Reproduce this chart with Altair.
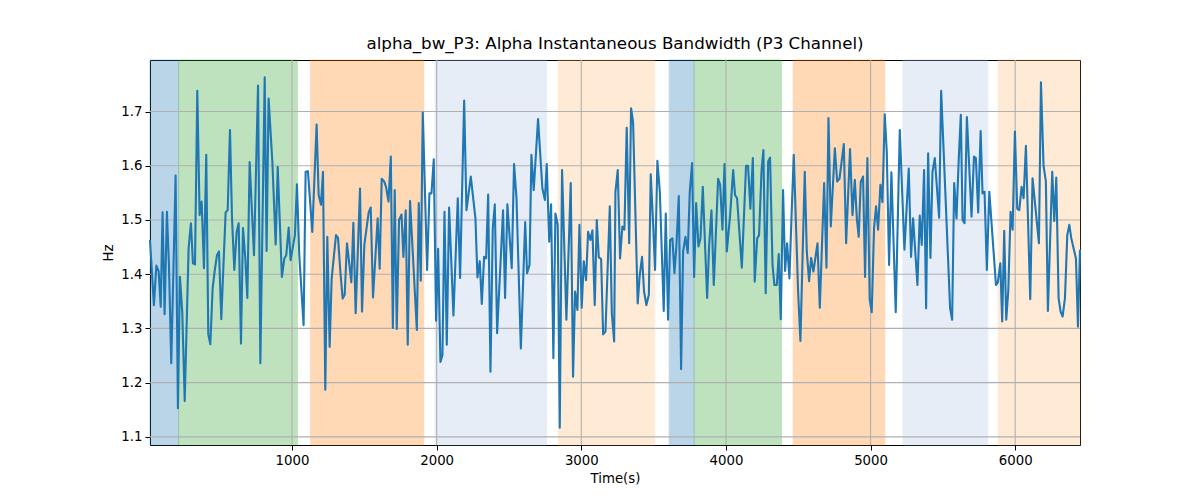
import altair as alt
import pandas as pd

# ---- series (time in s, bandwidth in Hz) ----
times = [
    18, 45, 62, 78, 92, 105, 119, 135, 149, 165, 195, 211, 225, 241, 258, 285, 301, 315, 329, 345,
    361, 375, 391, 407, 421, 435, 451, 465, 481, 495, 511, 525, 541, 555, 571, 585, 601, 617, 631, 647,
    661, 677, 691, 707, 737, 765, 781, 811,
    824, 838, 864, 887, 901, 930, 947, 960, 977, 990, 1020, 1034, 1050, 1080, 1094, 1110, 1140, 1170, 1184, 1200,
    1214, 1230, 1244, 1260, 1274, 1304, 1318, 1334, 1350, 1364, 1380, 1410, 1424, 1440, 1470, 1484, 1500, 1530, 1544, 1560,
    1592, 1606, 1620,
    1637, 1650, 1667, 1683, 1697, 1710, 1724, 1740, 1757, 1770, 1786, 1800, 1816, 1863, 1876, 1890, 1904, 1934, 1950, 1964,
    1980, 1996, 2010, 2026, 2040, 2054, 2070, 2086, 2116, 2146, 2162, 2190, 2206, 2236, 2268, 2282, 2298, 2312, 2328, 2342,
    2356, 2372, 2388, 2402, 2418,
    2427, 2443, 2459, 2473, 2489, 2519, 2535, 2552, 2582, 2612, 2625, 2642, 2655, 2671, 2701, 2731, 2748, 2761, 2778, 2791,
    2807, 2821, 2837, 2851, 2867, 2897, 2927, 2943, 2957, 2973, 2987, 3003, 3017, 3033, 3047, 3063, 3077, 3093, 3107, 3121,
    3137, 3151, 3167, 3197, 3211, 3227,
    3236, 3252, 3268, 3284, 3298, 3314, 3331, 3344, 3358, 3390, 3404, 3420, 3434, 3450, 3467, 3480, 3497, 3510, 3526, 3543,
    3570, 3584, 3600, 3614, 3630, 3644, 3658, 3674, 3690, 3704, 3720, 3736, 3750, 3766, 3780, 3794, 3810, 3824, 3840, 3870,
    3884, 3900, 3916, 3946, 3960, 3976, 3990, 4006, 4029,
    4050, 4063, 4077, 4110, 4139, 4153, 4169, 4186, 4199, 4216, 4229, 4246, 4259, 4275, 4292, 4305, 4322, 4335, 4352, 4365,
    4379, 4395, 4409, 4423, 4439, 4453, 4469, 4499, 4515, 4545, 4559, 4575, 4589, 4605, 4633, 4649, 4679, 4695, 4709, 4725,
    4753, 4769, 4785, 4815, 4831,
    4858, 4875, 4891, 4905, 4918, 4932, 4948, 4962, 4978, 4994, 5008, 5024, 5038, 5052, 5068, 5082, 5098, 5112, 5128, 5144,
    5174, 5202, 5234, 5264, 5280, 5294, 5324, 5340, 5354, 5370, 5384, 5398, 5414, 5428, 5444, 5474, 5488, 5550, 5564, 5578,
    5594, 5610, 5624,
    5636, 5650, 5666, 5698, 5715, 5728, 5744, 5761, 5774, 5788, 5804, 5821, 5867, 5880, 5897, 5910, 5924, 5938, 5952, 5968,
    5982, 5998, 6014, 6028, 6044, 6058, 6074, 6104, 6120, 6164, 6178, 6196, 6212, 6226, 6256, 6270, 6284, 6300, 6314, 6328,
    6344, 6360, 6374, 6388, 6420, 6434, 6448,
]
values = [
    1.463, 1.343, 1.416, 1.405, 1.340, 1.514, 1.326, 1.515, 1.417, 1.236, 1.582, 1.153, 1.395, 1.330, 1.166, 1.448, 1.494, 1.420, 1.418, 1.738,
    1.509, 1.534, 1.411, 1.620, 1.289, 1.271, 1.374, 1.405, 1.435, 1.442, 1.317, 1.411, 1.514, 1.518, 1.666, 1.503, 1.408, 1.478, 1.494, 1.272,
    1.485, 1.429, 1.356, 1.607, 1.435, 1.748, 1.236, 1.763,
    1.443, 1.724, 1.607, 1.455, 1.598, 1.395, 1.429, 1.435, 1.486, 1.426, 1.472, 1.566, 1.435, 1.306, 1.589, 1.590, 1.478, 1.676, 1.546, 1.528,
    1.589, 1.187, 1.469, 1.266, 1.392, 1.472, 1.467, 1.405, 1.355, 1.362, 1.457, 1.385, 1.495, 1.328, 1.558, 1.331, 1.454, 1.514, 1.523, 1.357,
    1.503, 1.410, 1.576,
    1.571, 1.561, 1.534, 1.617, 1.301, 1.555, 1.299, 1.500, 1.510, 1.432, 1.518, 1.270, 1.535, 1.297, 1.531, 1.388, 1.698, 1.408, 1.549, 1.549,
    1.612, 1.314, 1.447, 1.238, 1.251, 1.515, 1.270, 1.523, 1.324, 1.540, 1.393, 1.720, 1.518, 1.580, 1.503, 1.394, 1.424, 1.345, 1.432, 1.429,
    1.547, 1.220, 1.485, 1.529, 1.291,
    1.343, 1.429, 1.518, 1.356, 1.529, 1.411, 1.603, 1.540, 1.263, 1.496, 1.402, 1.417, 1.620, 1.555, 1.686, 1.558, 1.537, 1.603, 1.460, 1.529,
    1.245, 1.512, 1.491, 1.117, 1.592, 1.316, 1.568, 1.211, 1.368, 1.334, 1.491, 1.338, 1.424, 1.389, 1.478, 1.463, 1.481, 1.343, 1.500, 1.431,
    1.428, 1.289, 1.294, 1.525, 1.328, 1.276,
    1.552, 1.592, 1.429, 1.488, 1.482, 1.670, 1.457, 1.706, 1.681, 1.346, 1.398, 1.432, 1.368, 1.343, 1.362, 1.584, 1.491, 1.408, 1.609, 1.552,
    1.332, 1.512, 1.316, 1.463, 1.466, 1.402, 1.454, 1.544, 1.225, 1.442, 1.469, 1.439, 1.552, 1.605, 1.395, 1.531, 1.451, 1.466, 1.561, 1.356,
    1.454, 1.518, 1.380, 1.576, 1.565, 1.482, 1.603, 1.442, 1.509,
    1.592, 1.546, 1.540, 1.412, 1.600, 1.600, 1.521, 1.614, 1.386, 1.466, 1.472, 1.590, 1.629, 1.365, 1.608, 1.615, 1.417, 1.380, 1.380, 1.437,
    1.317, 1.555, 1.406, 1.457, 1.392, 1.503, 1.620, 1.368, 1.277, 1.589, 1.442, 1.387, 1.430, 1.405, 1.457, 1.338, 1.568, 1.412, 1.688, 1.488,
    1.632, 1.571, 1.576, 1.640, 1.457,
    1.631, 1.509, 1.574, 1.503, 1.469, 1.570, 1.580, 1.395, 1.614, 1.353, 1.330, 1.485, 1.525, 1.482, 1.565, 1.533, 1.695, 1.626, 1.417, 1.588,
    1.330, 1.666, 1.445, 1.595, 1.432, 1.503, 1.380, 1.508, 1.454, 1.592, 1.337, 1.623, 1.430, 1.589, 1.614, 1.504, 1.738, 1.337, 1.316, 1.568,
    1.503, 1.614, 1.694,
    1.500, 1.494, 1.690, 1.506, 1.617, 1.614, 1.514, 1.664, 1.549, 1.552, 1.408, 1.552, 1.380, 1.385, 1.420, 1.313, 1.480, 1.316, 1.368, 1.515,
    1.482, 1.663, 1.521, 1.518, 1.561, 1.540, 1.637, 1.354, 1.577, 1.457, 1.754, 1.600, 1.571, 1.332, 1.589, 1.498, 1.578, 1.356, 1.331, 1.322,
    1.356, 1.472, 1.491, 1.466, 1.429, 1.303, 1.445,
]

# ---- shaded stage spans ----
span_start = [18, 216, 1129, 1990, 2840, 3608, 3780, 4465, 5224, 5882]
span_end = [216, 1037, 1911, 2760, 3507, 3780, 4385, 5098, 5810, 6448]
span_kind = ["blue", "green", "orange", "lightblue", "lightorange",
             "blue", "green", "orange", "lightblue", "lightorange"]
kind_names = ["blue", "green", "orange", "lightblue", "lightorange"]
kind_colors = ["#1f77b4", "#2ca02c", "#ff7f0e", "#aec7e8", "#ffbb78"]

x_ticks = [1000, 2000, 3000, 4000, 5000, 6000]
y_ticks = [1.1, 1.2, 1.3, 1.4, 1.5, 1.6, 1.7]

line_df = pd.DataFrame({"t": times, "v": values})
span_df = pd.DataFrame({"start": span_start, "end": span_end, "kind": span_kind})

W, H = 930, 385
xs = alt.Scale(domain=[18, 6448], nice=False, zero=False)
ys = alt.Scale(domain=[1.085, 1.795], nice=False, zero=False)
kind_scale = alt.Scale(domain=kind_names, range=kind_colors)

x_axis = alt.Axis(values=x_ticks, format="d", title="Time(s)", grid=False)
y_axis = alt.Axis(values=y_ticks, format=".1f", title="Hz", grid=False)

spans = alt.Chart(span_df).mark_rect(opacity=0.3, strokeWidth=1).encode(
    x=alt.X("start:Q", scale=xs, axis=x_axis),
    x2="end:Q",
    y=alt.value(0),
    y2=alt.value(H),
    color=alt.Color("kind:N", scale=kind_scale, legend=None),
    stroke=alt.Stroke("kind:N", scale=kind_scale, legend=None),
)

xgrid = alt.Chart(pd.DataFrame({"gx": x_ticks})).mark_rule(
    color="#b0b0b0", strokeWidth=1.1
).encode(x=alt.X("gx:Q", scale=xs, axis=x_axis))

ygrid = alt.Chart(pd.DataFrame({"gy": y_ticks})).mark_rule(
    color="#b0b0b0", strokeWidth=1.1
).encode(y=alt.Y("gy:Q", scale=ys, axis=y_axis))

line = alt.Chart(line_df).mark_line(
    color="#1f77b4", strokeWidth=2.1, strokeJoin="round"
).encode(
    x=alt.X("t:Q", scale=xs, axis=x_axis),
    y=alt.Y("v:Q", scale=ys, axis=y_axis),
)

chart = alt.layer(spans, xgrid, ygrid, line).properties(
    width=W,
    height=H,
    title=alt.TitleParams(
        "alpha_bw_P3: Alpha Instantaneous Bandwidth (P3 Channel)",
        font="DejaVu Sans", fontSize=16.7, fontWeight="normal", color="black", offset=7,
    ),
    padding={"left": 150, "top": 60, "right": 120, "bottom": 55},
    autosize=alt.AutoSizeParams(type="none"),
).configure_view(
    stroke="black", strokeWidth=1
).configure_axis(
    labelFont="DejaVu Sans", labelFontSize=13.3, labelColor="black",
    tickColor="black", tickSize=5, tickWidth=1, domain=False,
    titleFont="DejaVu Sans", titleFontSize=13.3, titleFontWeight="normal", titleColor="black",
    labelPadding=3, titlePadding=5,
)

chart.save("out.html", embed_options={"renderer": "svg", "actions": False})
